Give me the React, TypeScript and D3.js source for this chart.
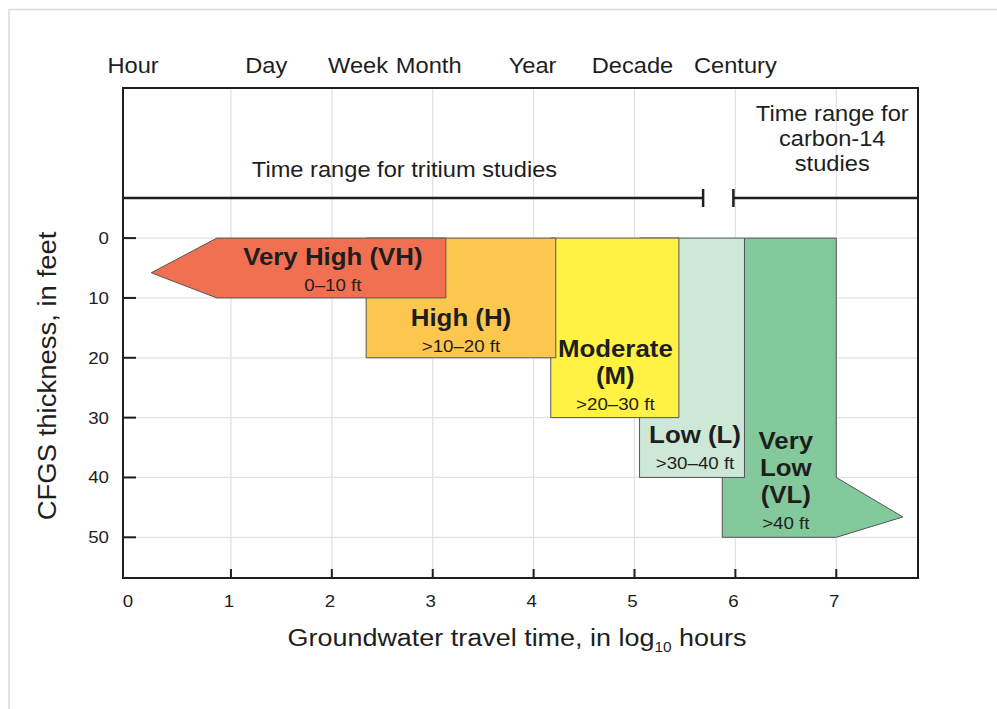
import React from 'react';
import * as d3 from 'd3';

// travel-time labels along the top (positions in log10 hours)
const timeLabels = ['Hour', 'Day', 'Week', 'Month', 'Year', 'Decade', 'Century'];
const timeLabelPos = [0.03, 1.35, 2.26, 2.96, 3.99, 4.98, 6.0];

const xTicks = [0, 1, 2, 3, 4, 5, 6, 7];
const yTicks = [0, 10, 20, 30, 40, 50];

// study ranges, log10 hours
const tritiumRange = [-0.07, 5.68];
const carbonRange = [5.98, 7.81];

// susceptibility classes: outline as [log10 hours, thickness ft]
const classNames = ['Very Low', 'Low', 'Moderate', 'High', 'Very High'];
const classColors = ['#83c99b', '#cde8d6', '#fff245', '#fdc74f', '#f27052'];
const classShapes: [number, number][][] = [
  [[6.09, 0], [7.0, 0], [7.0, 40], [7.66, 46.6], [7.0, 50], [5.87, 50], [5.87, 40], [6.09, 40]],
  [[5.05, 0], [6.09, 0], [6.09, 40], [5.05, 40]],
  [[4.17, 0], [5.44, 0], [5.44, 30], [4.17, 30]],
  [[2.34, 0], [4.22, 0], [4.22, 20], [2.34, 20]],
  [[0.86, 0], [3.13, 0], [3.13, 10], [0.86, 10], [0.21, 5.8]],
];
const classTitles = [['Very', 'Low', '(VL)'], ['Low (L)'], ['Moderate', '(M)'], ['High (H)'], ['Very High (VH)']];
const classRanges = ['>40 ft', '>30–40 ft', '>20–30 ft', '>10–20 ft', '0–10 ft'];
// label anchor [log10 hours, ft of first baseline]
const labelAnchor: [number, number][] = [[6.5, 35.3], [5.6, 34.3], [4.81, 19.9], [3.28, 14.7], [2.01, 4.5]];

const W = 997;
const H = 709;
const left = 123;
const right = 918;
const top = 88;
const mid = 198;
const bottom = 578;
const SX = 1.1; // horizontal stretch of lettering
const font = '"Liberation Sans", Arial, Helvetica, sans-serif';
const ink = '#1e1e1e';

const T: React.FC<{ x: number; y: number; size: number; anchor?: string; bold?: boolean; rotate?: number; children: React.ReactNode }> = ({ x, y, size, anchor = 'middle', bold, rotate, children }) => (
  <text
    transform={`translate(${x},${y})${rotate ? ` rotate(${rotate})` : ''} scale(${SX},1)`}
    textAnchor={anchor}
    fontSize={size}
    fontWeight={bold ? 'bold' : 'normal'}
    fontFamily={font}
    fill={ink}
  >
    {children}
  </text>
);

const App: React.FC = () => {
  const x = d3.scaleLinear().domain([-0.07, 7.81]).range([left, right]);
  const y = d3.scaleLinear().domain([-6.7, 56.8]).range([mid, bottom]);
  const line = d3.line<[number, number]>().x(d => x(d[0])).y(d => y(d[1]));

  return (
    <svg width={W} height={H} style={{ position: 'absolute', left: 0, top: 0, background: '#fff' }}>
      {/* outer frame */}
      <path d={`M9,${H} V9.5 H${W}`} fill="none" stroke="#dcdcdc" strokeWidth={1.5} />

      {/* grid */}
      {xTicks.filter(t => t > 0).map(t => (
        <line key={'gx' + t} x1={x(t)} x2={x(t)} y1={top} y2={bottom} stroke="#e2e2e2" strokeWidth={1.3} />
      ))}
      {yTicks.map(t => (
        <line key={'gy' + t} x1={left} x2={right} y1={y(t)} y2={y(t)} stroke="#e2e2e2" strokeWidth={1.3} />
      ))}

      {/* class shapes */}
      {classShapes.map((s, i) => (
        <path key={classNames[i]} d={line(s) + 'Z'} fill={classColors[i]} stroke="#555" strokeWidth={1} />
      ))}

      {/* class labels */}
      {classTitles.map((lines, i) => {
        const [ax, ay] = labelAnchor[i];
        const cx = x(ax);
        const y0 = y(ay);
        const step = 27;
        return (
          <g key={'lbl' + i}>
            {lines.map((l, j) => (
              <T key={j} x={cx} y={y0 + j * step} size={23.5} bold>{l}</T>
            ))}
            <T x={cx} y={y0 + (lines.length - 1) * step + 26} size={17}>{classRanges[i]}</T>
          </g>
        );
      })}

      {/* plot frame */}
      <rect x={left} y={top} width={right - left} height={bottom - top} fill="none" stroke={ink} strokeWidth={2} />

      {/* axis ticks */}
      {yTicks.map(t => (
        <line key={'ty' + t} x1={left} x2={left + 13} y1={y(t)} y2={y(t)} stroke={ink} strokeWidth={2} />
      ))}
      {xTicks.filter(t => t > 0).map(t => (
        <line key={'tx' + t} x1={x(t)} x2={x(t)} y1={bottom - 9} y2={bottom} stroke={ink} strokeWidth={2} />
      ))}

      {/* study range lines */}
      {[tritiumRange, carbonRange].map((r, i) => (
        <g key={'rng' + i}>
          <line x1={x(r[0])} x2={x(r[1])} y1={mid} y2={mid} stroke={ink} strokeWidth={2.5} />
          <line x1={x(i === 0 ? r[1] : r[0])} x2={x(i === 0 ? r[1] : r[0])} y1={mid - 9} y2={mid + 9} stroke={ink} strokeWidth={2.5} />
        </g>
      ))}
      <T x={x(2.72)} y={177} size={21.5}>Time range for tritium studies</T>
      <T x={x(6.96)} y={121} size={21.5}>Time range for</T>
      <T x={x(6.96)} y={146} size={21.5}>carbon-14</T>
      <T x={x(6.96)} y={171} size={21.5}>studies</T>

      {/* top time labels */}
      {timeLabels.map((l, i) => (
        <T key={l} x={x(timeLabelPos[i])} y={73} size={21.5}>{l}</T>
      ))}

      {/* tick labels */}
      {yTicks.map(t => (
        <T key={'ly' + t} x={109} y={y(t) + 6} size={17} anchor="end">{t}</T>
      ))}
      {xTicks.map(t => (
        <T key={'lx' + t} x={x(t) - 2} y={607} size={17}>{t}</T>
      ))}

      {/* axis titles */}
      <text transform={`translate(517,646) scale(${SX},1)`} textAnchor="middle" fontSize={24.5} fontFamily={font} fill={ink}>
        Groundwater travel time, in log
        <tspan fontSize={14} dy={6}>10</tspan>
        <tspan dy={-6}> hours</tspan>
      </text>
      <T x={56} y={376} size={25} rotate={-90}>CFGS thickness, in feet</T>
    </svg>
  );
};

export default App;
